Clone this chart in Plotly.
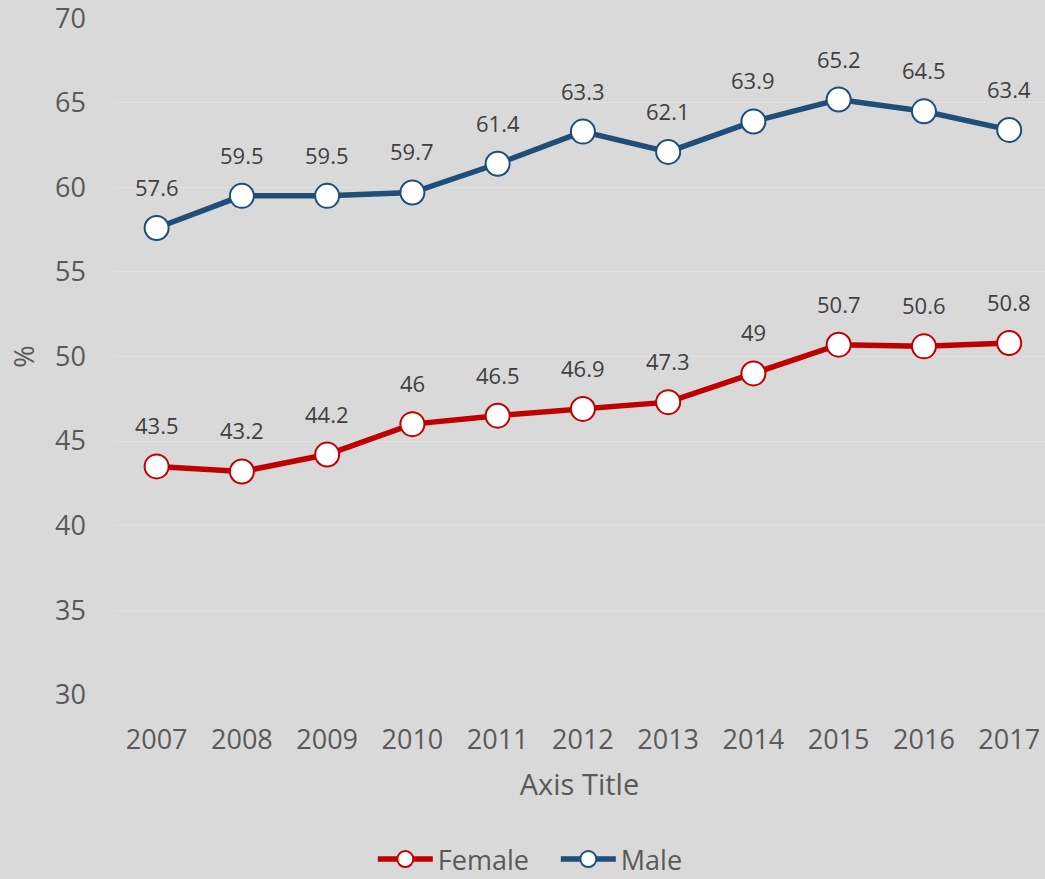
import plotly.graph_objects as go

years = [2007, 2008, 2009, 2010, 2011, 2012, 2013, 2014, 2015, 2016, 2017]
female = [43.5, 43.2, 44.2, 46, 46.5, 46.9, 47.3, 49, 50.7, 50.6, 50.8]
male = [57.6, 59.5, 59.5, 59.7, 61.4, 63.3, 62.1, 63.9, 65.2, 64.5, 63.4]
y_ticks = [30, 35, 40, 45, 50, 55, 60, 65, 70]

FONT = "Open Sans"
TXT = "#595959"

fig = go.Figure()
series = [("Female", female, "#c00000"), ("Male", male, "#1f4e79")]
for name, vals, col in series:
    fig.add_trace(go.Scatter(
        x=years, y=vals, name=name, mode="lines+markers",
        line=dict(color=col, width=5.5),
        marker=dict(symbol="circle", size=24, color="white", line=dict(color=col, width=2)),
    ))
    for x, v in zip(years, vals):
        fig.add_annotation(x=x, y=v, text=f"{v:g}", showarrow=False,
                           xanchor="center", yanchor="bottom", yshift=24,
                           font=dict(family=FONT, size=22, color="#404040"))

fig.update_layout(
    width=1045, height=879,
    margin=dict(l=114, r=0, t=18, b=184, autoexpand=False),
    paper_bgcolor="#d9d9d9", plot_bgcolor="#d9d9d9",
    font=dict(family=FONT, color=TXT),
    showlegend=True,
    legend=dict(orientation="h", x=0.278, xanchor="left", y=-0.243, yanchor="middle",
                font=dict(size=27, color=TXT), bgcolor="rgba(0,0,0,0)", itemwidth=55,
                entrywidth=113, entrywidthmode="pixels"),
    xaxis=dict(range=[2006.5, 2017.42], tickmode="array", tickvals=years,
               ticktext=[str(y) for y in years], showgrid=False, zeroline=False,
               tickfont=dict(size=27, color=TXT), showline=False, ticks="",
               ticklabelstandoff=26, automargin=False,
               title=dict(text="Axis Title", font=dict(size=29, color=TXT), standoff=18)),
    yaxis=dict(range=[29.98, 70.02], tickmode="array", tickvals=y_ticks,
               showgrid=True, gridcolor="#e0e0e0", gridwidth=1, zeroline=False,
               tickfont=dict(size=27, color=TXT), ticks="", ticklabelstandoff=27,
               automargin=False, ticklabeloverflow="allow",
               title=dict(text="%", font=dict(size=27, color=TXT), standoff=12)),
)

fig.write_html("out.html", config={"displayModeBar": False},
               post_script="document.body.style.margin='0';")
